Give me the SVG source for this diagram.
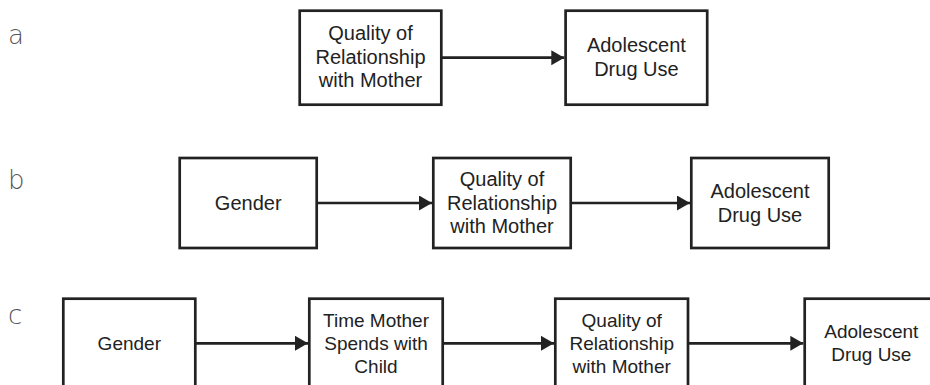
<svg xmlns="http://www.w3.org/2000/svg" width="930" height="385" viewBox="0 0 930 385">
<style>
.box{fill:#fff;stroke:#222;stroke-width:2.7}
.t{font-family:"Liberation Sans",Arial,sans-serif;font-size:20px;fill:#222;text-anchor:middle}
.tc{font-size:19px}
.lbl{font-family:"DejaVu Sans",sans-serif;font-weight:200;font-size:26px;fill:#555}
.con{stroke:#222;stroke-width:2.7;fill:none;marker-end:url(#ah)}
</style>
<defs>
<marker id="ah" markerUnits="userSpaceOnUse" markerWidth="14" markerHeight="16" refX="13" refY="7.5" orient="auto">
<path d="M0,0 L13,7.5 L0,15 Z" fill="#222"/>
</marker>
</defs>
<rect width="930" height="385" fill="#fff"/>
<text class="lbl" x="8" y="44">a</text>
<text class="lbl" x="8" y="189">b</text>
<text class="lbl" x="8" y="324">c</text>
<g id="connectors">
<line class="con" x1="441.3" y1="57.7" x2="564.3" y2="57.7"/>
<line class="con" x1="316.7" y1="203" x2="432" y2="203"/>
<line class="con" x1="570.7" y1="203" x2="690" y2="203"/>
<line class="con" x1="195.3" y1="343.3" x2="308" y2="343.3"/>
<line class="con" x1="442.7" y1="343.3" x2="554" y2="343.3"/>
<line class="con" x1="688" y1="343.3" x2="803.3" y2="343.3"/>
</g>
<g id="a-quality">
<rect class="box" x="299.7" y="10.7" width="141.6" height="94"/>
<text class="t" x="370.5" y="40">Quality of</text>
<text class="t" x="370.5" y="63.5">Relationship</text>
<text class="t" x="370.5" y="87">with Mother</text>
</g>
<g id="a-drug">
<rect class="box" x="565.6" y="10.7" width="141.6" height="94"/>
<text class="t" x="636.4" y="52">Adolescent</text>
<text class="t" x="636.4" y="75.5">Drug Use</text>
</g>
<g id="b-gender">
<rect class="box" x="179.7" y="158" width="137" height="90"/>
<text class="t" x="248.2" y="210">Gender</text>
</g>
<g id="b-quality">
<rect class="box" x="433.3" y="158" width="137.4" height="90"/>
<text class="t" x="502" y="186">Quality of</text>
<text class="t" x="502" y="209.5">Relationship</text>
<text class="t" x="502" y="233">with Mother</text>
</g>
<g id="b-drug">
<rect class="box" x="691.3" y="158" width="137.4" height="90"/>
<text class="t" x="760" y="198">Adolescent</text>
<text class="t" x="760" y="221.5">Drug Use</text>
</g>
<g id="c-gender">
<rect class="box" x="63.3" y="298.7" width="132" height="89.5"/>
<text class="t tc" x="129.3" y="350">Gender</text>
</g>
<g id="c-time">
<rect class="box" x="309.3" y="298.7" width="133.4" height="89.5"/>
<text class="t tc" x="376" y="326.5">Time Mother</text>
<text class="t tc" x="376" y="349.5">Spends with</text>
<text class="t tc" x="376" y="373">Child</text>
</g>
<g id="c-quality">
<rect class="box" x="555.3" y="298.7" width="132.7" height="89.5"/>
<text class="t tc" x="621.7" y="326.5">Quality of</text>
<text class="t tc" x="621.7" y="349.5">Relationship</text>
<text class="t tc" x="621.7" y="373">with Mother</text>
</g>
<g id="c-drug">
<rect class="box" x="804.7" y="298.7" width="133.3" height="89.5"/>
<text class="t tc" x="871.3" y="338">Adolescent</text>
<text class="t tc" x="871.3" y="360.5">Drug Use</text>
</g>
</svg>
